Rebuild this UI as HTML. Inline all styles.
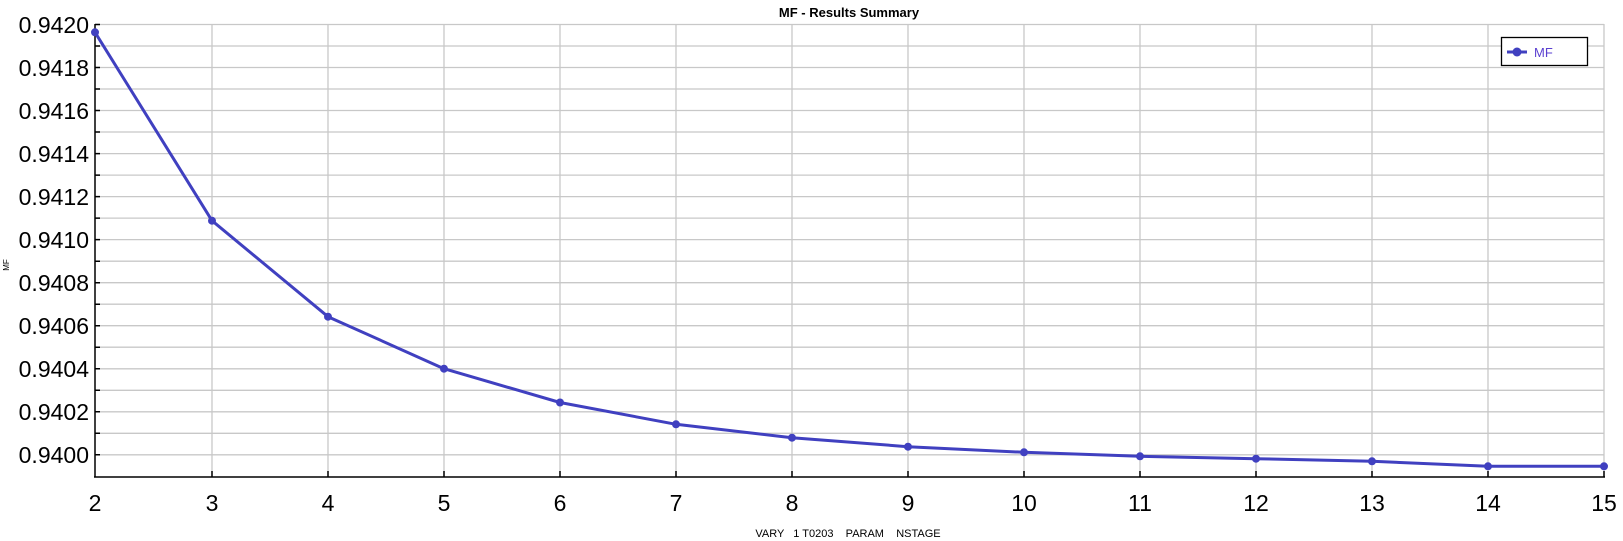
<!DOCTYPE html>
<html><head><meta charset="utf-8"><style>
html,body{margin:0;padding:0;background:#fff;}
svg{display:block;font-family:"Liberation Sans",sans-serif;}
</style></head><body>
<svg width="1623" height="541" viewBox="0 0 1623 541" xmlns="http://www.w3.org/2000/svg">
<rect width="1623" height="541" fill="#fff"/>
<text x="849" y="17" font-size="13" font-weight="bold" text-anchor="middle" fill="#000">MF - Results Summary</text>
<g stroke="#c8c8c8" stroke-width="1.3">
<line x1="95" y1="24.5" x2="1604" y2="24.5"/><line x1="95" y1="46" x2="1604" y2="46"/><line x1="95" y1="67.5" x2="1604" y2="67.5"/><line x1="95" y1="89" x2="1604" y2="89"/><line x1="95" y1="110.5" x2="1604" y2="110.5"/><line x1="95" y1="132" x2="1604" y2="132"/><line x1="95" y1="153.6" x2="1604" y2="153.6"/><line x1="95" y1="175.1" x2="1604" y2="175.1"/><line x1="95" y1="196.6" x2="1604" y2="196.6"/><line x1="95" y1="218.1" x2="1604" y2="218.1"/><line x1="95" y1="239.6" x2="1604" y2="239.6"/><line x1="95" y1="261.2" x2="1604" y2="261.2"/><line x1="95" y1="282.7" x2="1604" y2="282.7"/><line x1="95" y1="304.2" x2="1604" y2="304.2"/><line x1="95" y1="325.7" x2="1604" y2="325.7"/><line x1="95" y1="347.2" x2="1604" y2="347.2"/><line x1="95" y1="368.8" x2="1604" y2="368.8"/><line x1="95" y1="390.3" x2="1604" y2="390.3"/><line x1="95" y1="411.8" x2="1604" y2="411.8"/><line x1="95" y1="433.3" x2="1604" y2="433.3"/><line x1="95" y1="454.8" x2="1604" y2="454.8"/>
<line x1="212" y1="24" x2="212" y2="477"/><line x1="328" y1="24" x2="328" y2="477"/><line x1="444" y1="24" x2="444" y2="477"/><line x1="560" y1="24" x2="560" y2="477"/><line x1="676" y1="24" x2="676" y2="477"/><line x1="792" y1="24" x2="792" y2="477"/><line x1="908" y1="24" x2="908" y2="477"/><line x1="1024" y1="24" x2="1024" y2="477"/><line x1="1140" y1="24" x2="1140" y2="477"/><line x1="1256" y1="24" x2="1256" y2="477"/><line x1="1372" y1="24" x2="1372" y2="477"/><line x1="1488" y1="24" x2="1488" y2="477"/><line x1="1604" y1="24" x2="1604" y2="477"/>
</g>
<g stroke="#000" stroke-width="1.5">
<line x1="95" y1="24" x2="95" y2="477"/><line x1="94" y1="477" x2="1605" y2="477"/>
<path d="M95 24.5h5M95 46h5M95 67.5h5M95 89h5M95 110.5h5M95 132h5M95 153.6h5M95 175.1h5M95 196.6h5M95 218.1h5M95 239.6h5M95 261.2h5M95 282.7h5M95 304.2h5M95 325.7h5M95 347.2h5M95 368.8h5M95 390.3h5M95 411.8h5M95 433.3h5M95 454.8h5"/>
<path d="M212 477v-6M328 477v-6M444 477v-6M560 477v-6M676 477v-6M792 477v-6M908 477v-6M1024 477v-6M1140 477v-6M1256 477v-6M1372 477v-6M1488 477v-6M1604 477v-6"/>
</g>
<g font-size="23" fill="#000" text-anchor="end">
<text x="89" y="33">0.9420</text><text x="89" y="76">0.9418</text><text x="89" y="119">0.9416</text><text x="89" y="162">0.9414</text><text x="89" y="205">0.9412</text><text x="89" y="248">0.9410</text><text x="89" y="291">0.9408</text><text x="89" y="334">0.9406</text><text x="89" y="377">0.9404</text><text x="89" y="420">0.9402</text><text x="89" y="463">0.9400</text>
</g>
<g font-size="23" fill="#000" text-anchor="middle">
<text x="95" y="511">2</text><text x="212" y="511">3</text><text x="328" y="511">4</text><text x="444" y="511">5</text><text x="560" y="511">6</text><text x="676" y="511">7</text><text x="792" y="511">8</text><text x="908" y="511">9</text><text x="1024" y="511">10</text><text x="1140" y="511">11</text><text x="1256" y="511">12</text><text x="1372" y="511">13</text><text x="1488" y="511">14</text><text x="1604" y="511">15</text>
</g>
<text x="848" y="537" font-size="11" text-anchor="middle" fill="#000" xml:space="preserve">VARY   1 T0203    PARAM    NSTAGE</text>
<text transform="translate(9,265) rotate(-90)" font-size="8" text-anchor="middle" fill="#000">MF</text>
<polyline fill="none" stroke="#4040c0" stroke-width="3" stroke-linejoin="round" points="95,32.3 212,220.7 328,316.7 444,368.7 560,402.5 676,424.3 792,437.7 908,446.7 1024,452.3 1140,456.3 1256,458.7 1372,461.3 1488,466.3 1604,466.3"/>
<g fill="#4040c0">
<circle cx="95" cy="32.3" r="4"/><circle cx="212" cy="220.7" r="4"/><circle cx="328" cy="316.7" r="4"/><circle cx="444" cy="368.7" r="4"/><circle cx="560" cy="402.5" r="4"/><circle cx="676" cy="424.3" r="4"/><circle cx="792" cy="437.7" r="4"/><circle cx="908" cy="446.7" r="4"/><circle cx="1024" cy="452.3" r="4"/><circle cx="1140" cy="456.3" r="4"/><circle cx="1256" cy="458.7" r="4"/><circle cx="1372" cy="461.3" r="4"/><circle cx="1488" cy="466.3" r="4"/><circle cx="1604" cy="466.3" r="4"/>
</g>
<rect x="1501.5" y="37.5" width="86" height="28" fill="#fff" stroke="#000" stroke-width="1.3"/>
<line x1="1507" y1="52" x2="1527" y2="52" stroke="#4040c0" stroke-width="3"/>
<circle cx="1517" cy="52" r="4.5" fill="#4040c0"/>
<text x="1534" y="57" font-size="13" fill="#5a3fd0">MF</text>
</svg>
</body></html>
